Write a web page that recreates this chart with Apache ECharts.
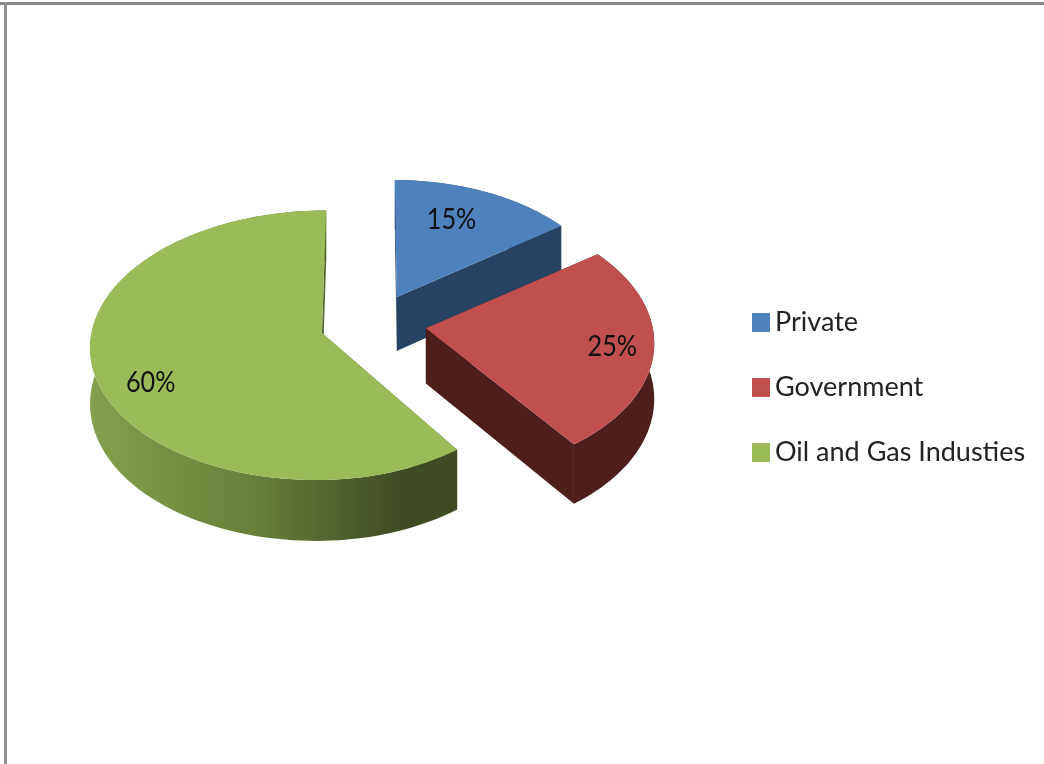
<!DOCTYPE html>
<html><head><meta charset="utf-8">
<style>html,body{margin:0;padding:0;background:#fff}#c{width:1044px;height:764px}</style>
<script src="https://cdn.jsdelivr.net/npm/echarts@6/dist/echarts.min.js"></script>
</head><body><div id="c"></div>
<script>
const categories = ['Private', 'Government', 'Oil and Gas Industies'];
const shares = [15, 25, 60];

const topColors = ['#4F81BD', '#C0504D', '#9BBB59'];
const wallColors = ['#264364', '#4E1E1C', null];
const labelFrac = [0.41, 0.51, 0.457];
const labelRad = [0.69, 0.80, 0.79];
const rightScale = [0.945, 0.975, 0.94];
const leftScale = [1, 1, 0.987];
const FONT = 'Lato,"Liberation Sans",sans-serif';

// view of the tilted disc
const view = { cx: 373, cy: 323.6, rx: 232, ry: 132, persp: 0.09, depth: 55, explode: 0.23 };
const total = shares.reduce((a, b) => a + b, 0);

function project(U, V, down) {
  const w = 1 + view.persp * V;
  return [view.cx + view.rx * U / w, view.cy - view.ry * V / w + (down ? view.depth / w : 0)];
}
function sliceShapes(i) {
  let start = 0;
  for (let k = 0; k < i; k++) start += shares[k] / total * 2 * Math.PI;
  const sweep = shares[i] / total * 2 * Math.PI;
  const mid = start + sweep / 2;
  const ox = view.explode * Math.sin(mid), oy = view.explode * Math.cos(mid);
  const arcTop = [], arcBot = [];
  const n = Math.ceil(shares[i] * 2);
  for (let k = 0; k <= n; k++) {
    const a = start + sweep * k / n;
    const sx = Math.sin(a);
    const U = ox + sx * (sx > 0 ? rightScale[i] : leftScale[i]), V = oy + Math.cos(a);
    arcTop.push(project(U, V, false));
    arcBot.push(project(U, V, true));
  }
  const apexT = project(ox, oy, false), apexB = project(ox, oy, true);
  const la = start + sweep * labelFrac[i];
  const lab = project(ox + labelRad[i] * Math.sin(la), oy + labelRad[i] * Math.cos(la), false);
  return { arcTop, arcBot, apexT, apexB, lab };
}
function wallFill(i) {
  if (wallColors[i]) return wallColors[i];
  return new echarts.graphic.LinearGradient(90, 0, 458, 0, [
    { offset: 0, color: '#84A04C' },
    { offset: 0.45, color: '#687F3A' },
    { offset: 0.85, color: '#3F4B23' },
    { offset: 1, color: '#3F4B23' }
  ], true);
}
function renderSlice(params) {
  const i = params.seriesIndex;
  const s = sliceShapes(i);
  const fill = wallFill(i);
  const last = s.arcTop.length - 1;
  const children = [
    { type: 'polygon', shape: { points: [s.apexT, s.apexB, s.arcBot[0], s.arcTop[0]] }, style: { fill: fill } },
    { type: 'polygon', shape: { points: [s.apexT, s.apexB, s.arcBot[last], s.arcTop[last]] }, style: { fill: fill } },
    { type: 'polygon', shape: { points: s.arcTop.concat(s.arcBot.slice().reverse()) }, style: { fill: fill } },
    { type: 'polygon', shape: { points: [s.apexT].concat(s.arcTop) }, style: { fill: topColors[i] } },
    { type: 'text', x: s.lab[0], y: s.lab[1], scaleX: 0.87,
      style: { text: shares[i] + '%', x: 0, y: 0, align: 'center', verticalAlign: 'middle',
        font: '29px ' + FONT, fill: '#111' } }
  ];
  return { type: 'group', children: children };
}

const chart = echarts.init(document.getElementById('c'), null, { renderer: 'canvas' });
chart.setOption({
  animation: false,
  backgroundColor: '#fff',
  legend: {
    orient: 'vertical', left: 752, top: 309, itemWidth: 18, itemHeight: 19, itemGap: 38, padding: 0,
    icon: 'rect', selectedMode: false, data: categories,
    textStyle: { fontFamily: FONT, fontSize: 27, color: '#222' }
  },
  graphic: [
    { type: 'rect', shape: { x: 0, y: 2, width: 1044, height: 3 }, style: { fill: '#888' }, silent: true },
    { type: 'rect', shape: { x: 4, y: 2, width: 3, height: 762 }, style: { fill: '#8f8f8f' }, silent: true }
  ],
  series: categories.map((name, i) => ({
    type: 'custom', name: name, coordinateSystem: 'none', silent: true,
    itemStyle: { color: topColors[i] }, data: [[shares[i]]], renderItem: renderSlice
  }))
});
</script></body></html>
